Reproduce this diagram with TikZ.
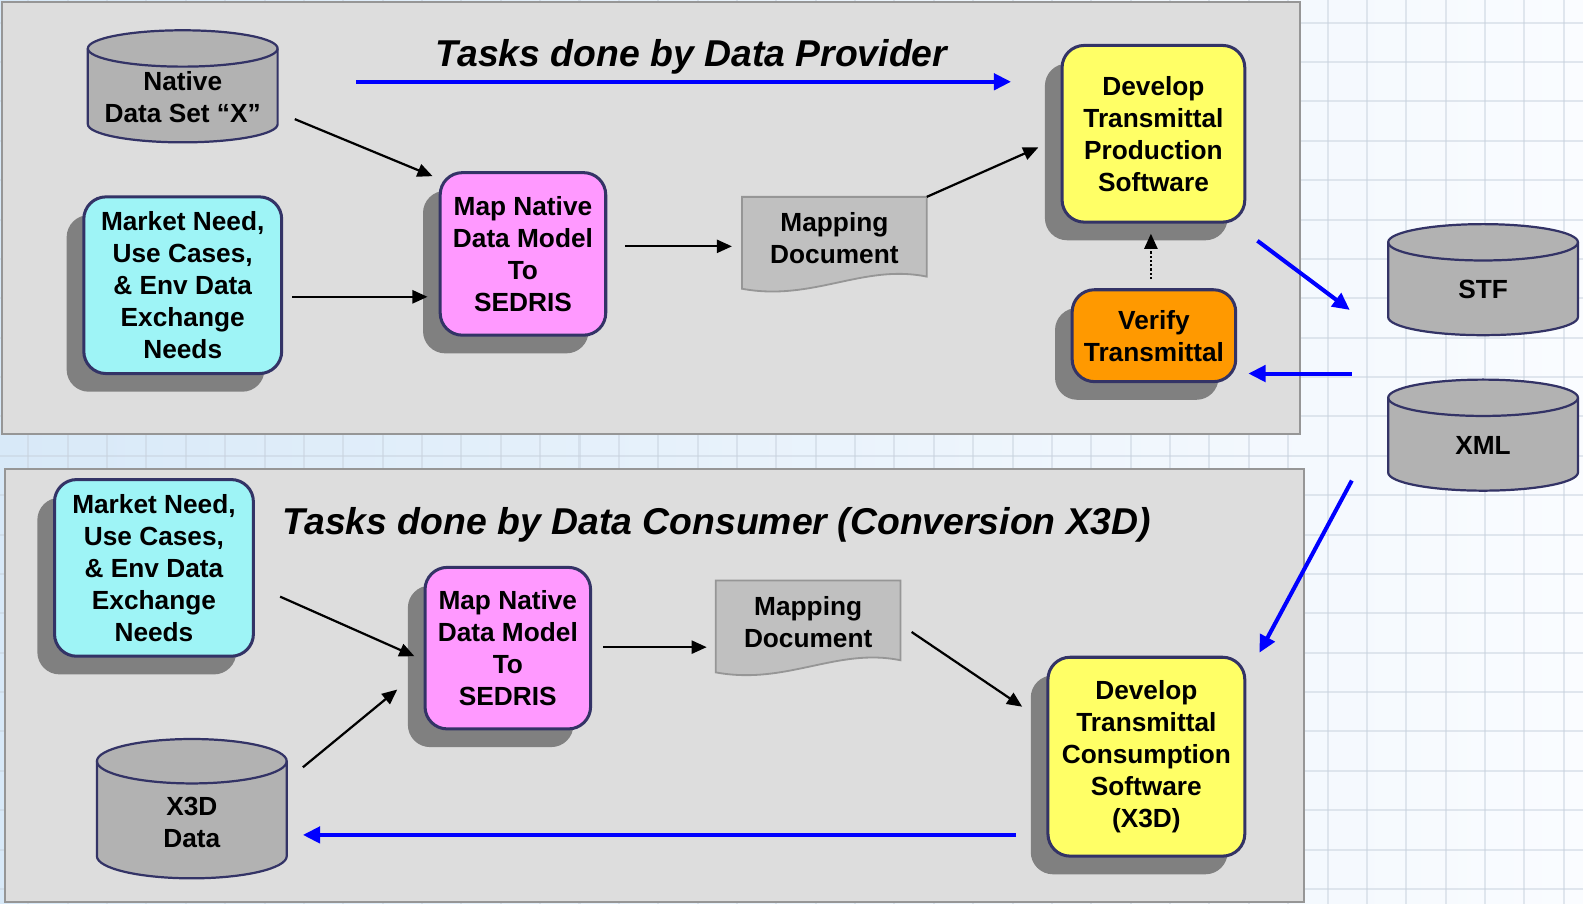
\documentclass[tikz,border=0pt]{standalone}
\usepackage{fontspec}
\setmainfont{Liberation Sans}
\usepackage{xcolor}
\usepackage{tikz}
\usetikzlibrary{arrows.meta,positioning,calc,shadows}
\definecolor{boxline}{RGB}{51,51,102}
\definecolor{shadowgray}{RGB}{128,128,128}
\definecolor{mktcyan}{RGB}{158,244,246}
\definecolor{mappink}{RGB}{255,153,255}
\definecolor{devyellow}{RGB}{255,255,102}
\definecolor{vrforange}{RGB}{255,153,0}
\definecolor{cylgray}{RGB}{178,178,178}
\definecolor{docgray}{RGB}{192,192,192}
\definecolor{docline}{RGB}{150,150,150}
\definecolor{panelgray}{RGB}{221,221,221}
\definecolor{panelline}{RGB}{150,150,150}
\definecolor{arrowblue}{RGB}{0,0,255}
\definecolor{bgleft}{RGB}{216,233,248}
\definecolor{bgright}{RGB}{250,252,255}
\definecolor{gridgray}{RGB}{200,210,222}
\newcommand\taskfont{\fontsize{26}{31.7}\selectfont\bfseries}
\newcommand\titlefont{\fontsize{37}{41}\selectfont\bfseries\itshape}
\tikzset{
  task/.style={draw=boxline, line width=3pt, rounded corners=22pt, align=center, font=\taskfont, inner sep=2pt,
    drop shadow={shadow xshift=-17pt, shadow yshift=-18pt, fill=shadowgray, opacity=1}},
  mkt/.style={task, fill=mktcyan, minimum width=196pt, minimum height=175pt},
  mapn/.style={task, fill=mappink, minimum width=164pt, minimum height=161pt},
  dev/.style={task, fill=devyellow, minimum width=181pt, minimum height=175pt},
  vrf/.style={task, fill=vrforange, minimum width=162pt, minimum height=91pt},
  txt/.style={align=center, font=\taskfont, inner sep=0pt},
  ttl/.style={font=\titlefont, inner sep=0pt},
  cyl/.style={draw=boxline, fill=cylgray, line width=2.2pt},
  docpath/.style={draw=docline, fill=docgray, line width=1.8pt},
  panel/.style={draw=panelline, fill=panelgray, line width=2pt},
  gridln/.style={draw=gridgray, line width=2pt, opacity=0.5},
  arr/.style={-{Triangle[length=15pt,width=13pt]}, line width=2.2pt},
  darr/.style={arr, dotted},
  barr/.style={-{Triangle[length=17pt,width=16pt]}, line width=4pt, draw=arrowblue, arrowblue},
}
% data store: name, centre x, top y, bottom y, y radius, text y, text
\newcommand\dbnode[7]{%
  \draw[cyl] (#2-94,#3-#5) -- (#2-94,#4+#5) arc[start angle=180,end angle=360,x radius=94,y radius=#5]
    -- (#2+94,#3-#5) arc[start angle=0,end angle=180,x radius=94,y radius=#5] -- cycle;
  \draw[cyl, fill=none] (#2-94,#3-#5) arc[start angle=180,end angle=360,x radius=94,y radius=#5];
  \node[txt] (#1) at (#2,#6) {#7};
}
% mapping document: name, left x, top y, text
\newcommand\docnode[4]{%
  \draw[docpath] (#2,#3) -- (#2+183,#3) -- (#2+183,#3-79)
    .. controls (#2+120,#3-66) and (#2+70,#3-104) .. (#2,#3-91) -- cycle;
  \node[txt] (#1) at (#2+91.5,#3-41) {#4};
}
\begin{document}
\begin{tikzpicture}[x=1pt,y=1pt]
\useasboundingbox (0,0) rectangle (1568,-895);
\shade[left color=bgleft, right color=bgright] (0,0) rectangle (1568,-895);
\foreach \gx in {-11,28,...,1580} \draw[gridln] (\gx,0) -- (\gx,-895);
\foreach \gy in {-22.5,-61.5,...,-900} \draw[gridln] (0,\gy) -- (1568,\gy);

% panels
\draw[panel] (2,-2) rectangle (1288,-430);
\draw[panel] (5,-465) rectangle (1292,-893);

\node[ttl] (tprov) at (685,-56) {Tasks done by Data Provider};
\node[ttl, anchor=west] (tcons) at (280,-520) {Tasks done by Data Consumer (Conversion X3D)};

% provider side
\dbnode{nds}{181}{-30}{-141}{18}{-96}{Native\\Data Set “X”}
\node[mkt] (mkta) at (181,-282.5) {Market Need,\\Use Cases,\\\& Env Data\\Exchange\\Needs};
\node[mapn] (mapa) at (518,-251.5) {Map Native\\Data Model\\To\\SEDRIS};
\docnode{mdoca}{735}{-195}{Mapping\\Document}
\node[dev] (devp) at (1142.5,-132.5) {Develop\\Transmittal\\Production\\Software};
\node[vrf] (vrfy) at (1143,-332.5) {Verify\\Transmittal};

% exchange formats
\dbnode{stf}{1469}{-222}{-332}{18}{-287}{STF}
\dbnode{xml}{1469}{-376}{-486}{18}{-441}{XML}

% consumer side
\node[mkt, minimum width=197pt] (mktb) at (152.5,-562.5) {Market Need,\\Use Cases,\\\& Env Data\\Exchange\\Needs};
\node[mapn, minimum height=160pt] (mapb) at (503,-642) {Map Native\\Data Model\\To\\SEDRIS};
\docnode{mdocb}{709}{-575}{Mapping\\Document}
\node[dev, minimum width=195pt, minimum height=197pt] (devc) at (1135.5,-749.5) {Develop\\Transmittal\\Consumption\\Software\\(X3D)};
\dbnode{x3d}{190}{-732}{-870}{22}{-815}{X3D\\Data}

% connectors
\draw[arr] ($(nds)+(111,-22)$) -- ($(mapa.north west)+(-6,-5)$);
\draw[arr] ($(mkta.east)+(9,-11.5)$) -- ($(mapa.west)+(-11,-42.5)$);
\draw[arr] ($(mapa.east)+(18,7.5)$) -- ($(mdoca)+(-101.5,-8)$);
\draw[arr] ($(mdoca)+(91.5,41)$) -- ($(devp.west)+(-22,-13.5)$);
\draw[darr] ($(vrfy.north)+(-3,9)$) -- ($(devp.south)+(-2.5,-10)$);
\draw[barr] ($(tprov)+(-332,-25)$) -- ($(devp.west)+(-49,51.5)$);
\draw[barr] ($(devp.south east)+(11,-17)$) -- ($(stf)+(-132,-20)$);
\draw[barr] ($(xml)+(-130,71)$) -- ($(vrfy.east)+(11,-37.5)$);
\draw[barr] ($(xml)+(-130,-35)$) -- ($(devc.north east)+(13,3)$);
\draw[barr] ($(devc.west)+(-30,-77.5)$) -- ($(x3d)+(110,-12)$);
\draw[arr] ($(mktb.east)+(25,-28.5)$) -- ($(mapb.west)+(-9,-8)$);
\draw[arr] ($(x3d)+(110,55)$) -- ($(mapb.west)+(-26,-41)$);
\draw[arr] ($(mapb.east)+(11,1)$) -- ($(mdocb)+(-100.5,-25)$);
\draw[arr] ($(mdocb)+(102.5,-10)$) -- ($(devc.west)+(-24,49.5)$);
\end{tikzpicture}
\end{document}
